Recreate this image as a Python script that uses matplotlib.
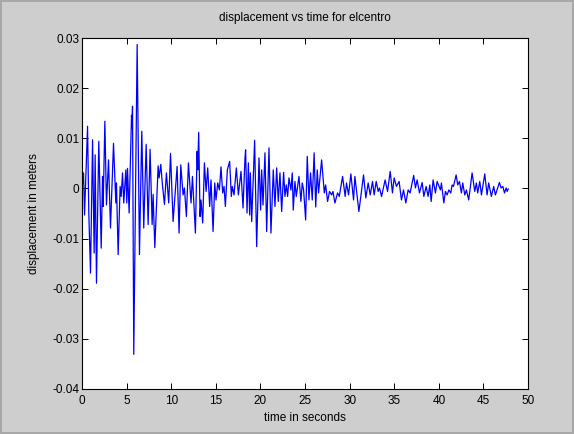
import matplotlib
matplotlib.use("Agg")
import matplotlib.pyplot as plt

# El Centro response: displacement turning points (time in s, displacement in m)
time_s = [
    0.00, 0.17, 0.28, 0.62, 0.76, 0.95, 1.18, 1.36, 1.47, 1.62, 1.88, 2.15, 2.30, 2.37,
    2.56, 2.74, 2.97, 3.19, 3.53, 3.79, 3.86, 4.05, 4.27, 4.39, 4.54, 4.68, 4.91, 5.02,
    5.10, 5.28, 5.55, 5.60, 5.66, 5.80, 6.18, 6.44, 6.70, 6.92, 7.19, 7.41, 7.63, 7.86,
    7.97, 8.16, 8.53, 8.64, 8.83, 9.01, 9.24, 9.46, 9.72, 9.92, 10.21, 10.66, 10.88,
    11.07, 11.33, 11.48, 11.70, 11.93, 12.22, 12.38, 12.71, 12.90, 12.97, 13.08, 13.23,
    13.34, 13.53, 13.72, 13.91, 14.09, 14.31, 14.46, 14.69, 14.88, 15.02, 15.21, 15.40,
    15.58, 15.77, 15.92, 16.07, 16.29, 16.55, 16.74, 16.85, 17.04, 17.30, 17.53, 17.82,
    18.05, 18.27, 18.34, 18.50, 18.65, 18.79, 18.87, 19.02, 19.35, 19.58, 19.84, 20.02,
    20.14, 20.29, 20.51, 20.70, 20.96, 21.18, 21.44, 21.63, 21.82, 22.00, 22.19, 22.38,
    22.60, 22.75, 22.90, 23.05, 23.20, 23.42, 23.57, 23.68, 23.87, 24.02, 24.32, 24.54,
    24.69, 24.84, 25.07, 25.25, 25.44, 25.62, 25.81, 26.02, 26.20, 26.37, 26.52, 26.86,
    27.16, 27.31, 27.53, 27.75, 27.98, 28.13, 28.35, 28.65, 28.84, 29.21, 29.50, 29.65,
    29.88, 30.14, 30.44, 30.59, 31.04, 31.56, 31.82, 32.08, 32.31, 32.57, 32.75, 32.98,
    33.20, 33.35, 33.58, 33.98, 34.25, 34.55, 34.80, 34.99, 35.25, 35.55, 35.81, 36.04,
    36.30, 36.56, 36.78, 37.18, 37.38, 37.57, 37.83, 38.13, 38.32, 38.58, 38.80, 38.99,
    39.14, 39.36, 39.62, 39.81, 40.18, 40.29, 40.56, 40.74, 40.93, 41.12, 41.34, 41.49,
    41.64, 41.94, 42.12, 42.31, 42.53, 42.68, 42.91, 43.09, 43.35, 43.73, 44.03, 44.21,
    44.36, 44.59, 44.78, 45.15, 45.41, 45.59, 45.89, 46.15, 46.34, 46.60, 46.79, 46.98,
    47.18, 47.36, 47.55, 47.66, 47.78,
]
displacement_m = [
    0.0000, 0.0031, -0.0053, 0.0124, -0.0049, -0.0169, 0.0097, -0.0129, 0.0067, -0.0189,
    0.0094, -0.0119, 0.0024, -0.0036, 0.0134, -0.0033, 0.0057, -0.0079, 0.0090, -0.0029,
    0.0011, -0.0132, 0.0004, -0.0016, 0.0031, -0.0029, 0.0037, -0.0029, 0.0040, -0.0049,
    0.0146, 0.0120, 0.0164, -0.0331, 0.0287, -0.0132, 0.0114, -0.0079, 0.0088, -0.0072,
    0.0078, -0.0072, -0.0012, -0.0118, 0.0045, 0.0021, 0.0048, 0.0008, -0.0032, 0.0031,
    -0.0029, 0.0070, -0.0066, 0.0044, -0.0089, 0.0047, -0.0013, 0.0001, -0.0056, 0.0051,
    -0.0029, 0.0024, -0.0089, 0.0074, 0.0037, 0.0112, -0.0056, -0.0023, -0.0069, 0.0051,
    -0.0006, 0.0041, -0.0036, 0.0017, -0.0086, 0.0011, -0.0023, 0.0011, -0.0003, 0.0043,
    -0.0009, 0.0004, -0.0036, 0.0037, 0.0054, -0.0016, 0.0004, -0.0013, 0.0041, -0.0013,
    0.0034, -0.0039, 0.0061, 0.0077, -0.0049, 0.0051, -0.0053, 0.0031, -0.0066, 0.0096,
    -0.0116, 0.0061, -0.0043, 0.0037, -0.0033, 0.0071, -0.0086, 0.0081, -0.0089, 0.0037,
    -0.0036, 0.0041, -0.0026, 0.0031, -0.0046, 0.0032, -0.0016, 0.0007, -0.0016, 0.0021,
    -0.0003, 0.0031, -0.0043, 0.0014, -0.0016, 0.0024, -0.0026, 0.0011, -0.0003, -0.0063,
    0.0064, -0.0023, 0.0031, -0.0023, 0.0071, -0.0037, 0.0037, -0.0009, 0.0057, -0.0009,
    0.0007, -0.0026, -0.0006, -0.0013, -0.0006, -0.0029, -0.0009, -0.0016, 0.0024, -0.0016,
    0.0011, -0.0013, 0.0029, -0.0023, 0.0024, -0.0046, 0.0027, -0.0019, 0.0011, -0.0013,
    0.0014, -0.0013, 0.0014, -0.0006, 0.0001, -0.0016, 0.0017, -0.0006, 0.0034, -0.0009,
    0.0021, 0.0004, 0.0014, -0.0023, -0.0003, -0.0029, -0.0003, -0.0009, 0.0026, 0.0001,
    0.0017, -0.0009, 0.0012, -0.0016, 0.0004, -0.0016, 0.0007, -0.0026, 0.0017, -0.0009,
    0.0014, -0.0003, 0.0011, -0.0029, -0.0006, -0.0013, -0.0003, -0.0009, 0.0007, 0.0004,
    0.0027, 0.0007, 0.0014, -0.0009, 0.0011, -0.0013, -0.0003, -0.0023, 0.0031, -0.0006,
    0.0011, -0.0009, 0.0014, -0.0013, 0.0029, -0.0013, 0.0011, -0.0016, 0.0004, -0.0013,
    0.0001, 0.0012, 0.0001, 0.0004, -0.0009, 0.0001, -0.0006, -0.0001,
]

x_ticks = [0, 5, 10, 15, 20, 25, 30, 35, 40, 45, 50]
y_ticks = [-0.04, -0.03, -0.02, -0.01, 0, 0.01, 0.02, 0.03]
y_tick_labels = ["-0.04", "-0.03", "-0.02", "-0.01", "0", "0.01", "0.02", "0.03"]

plt.rcParams["font.family"] = ["Liberation Sans", "DejaVu Sans"]
plt.rcParams["font.size"] = 8.5

fig = plt.figure(figsize=(5.74, 4.34), dpi=100)
fig.patch.set_facecolor("#cecece")
fig.patch.set_edgecolor("#a8a8a8")
fig.patch.set_linewidth(1.5)

ax = fig.add_axes([0.1429, 0.1037, 0.7770, 0.8087])
ax.set_facecolor("white")
ax.plot(time_s, displacement_m, color="#0000ff", linewidth=0.9)

ax.set_xlim(0, 50)
ax.set_ylim(-0.04, 0.03)
ax.set_xticks(x_ticks)
ax.set_xticklabels([str(v) for v in x_ticks])
ax.set_yticks(y_ticks)
ax.set_yticklabels(y_tick_labels)
ax.tick_params(direction="in", length=4, width=0.7, top=True, right=True,
               colors="black", labelsize=8.5)
ax.tick_params(axis="x", pad=4)
ax.tick_params(axis="y", pad=2)
for spine in ax.spines.values():
    spine.set_linewidth(0.8)
    spine.set_color("black")

ax.set_title("displacement vs time for elcentro", fontsize=8.5, pad=12)
ax.set_xlabel("time in seconds", fontsize=8.5, labelpad=4)
ax.set_ylabel("displacement in meters", fontsize=8.5, labelpad=9)

fig.savefig("out.png", dpi=100, facecolor=fig.get_facecolor(), edgecolor=fig.get_edgecolor())
